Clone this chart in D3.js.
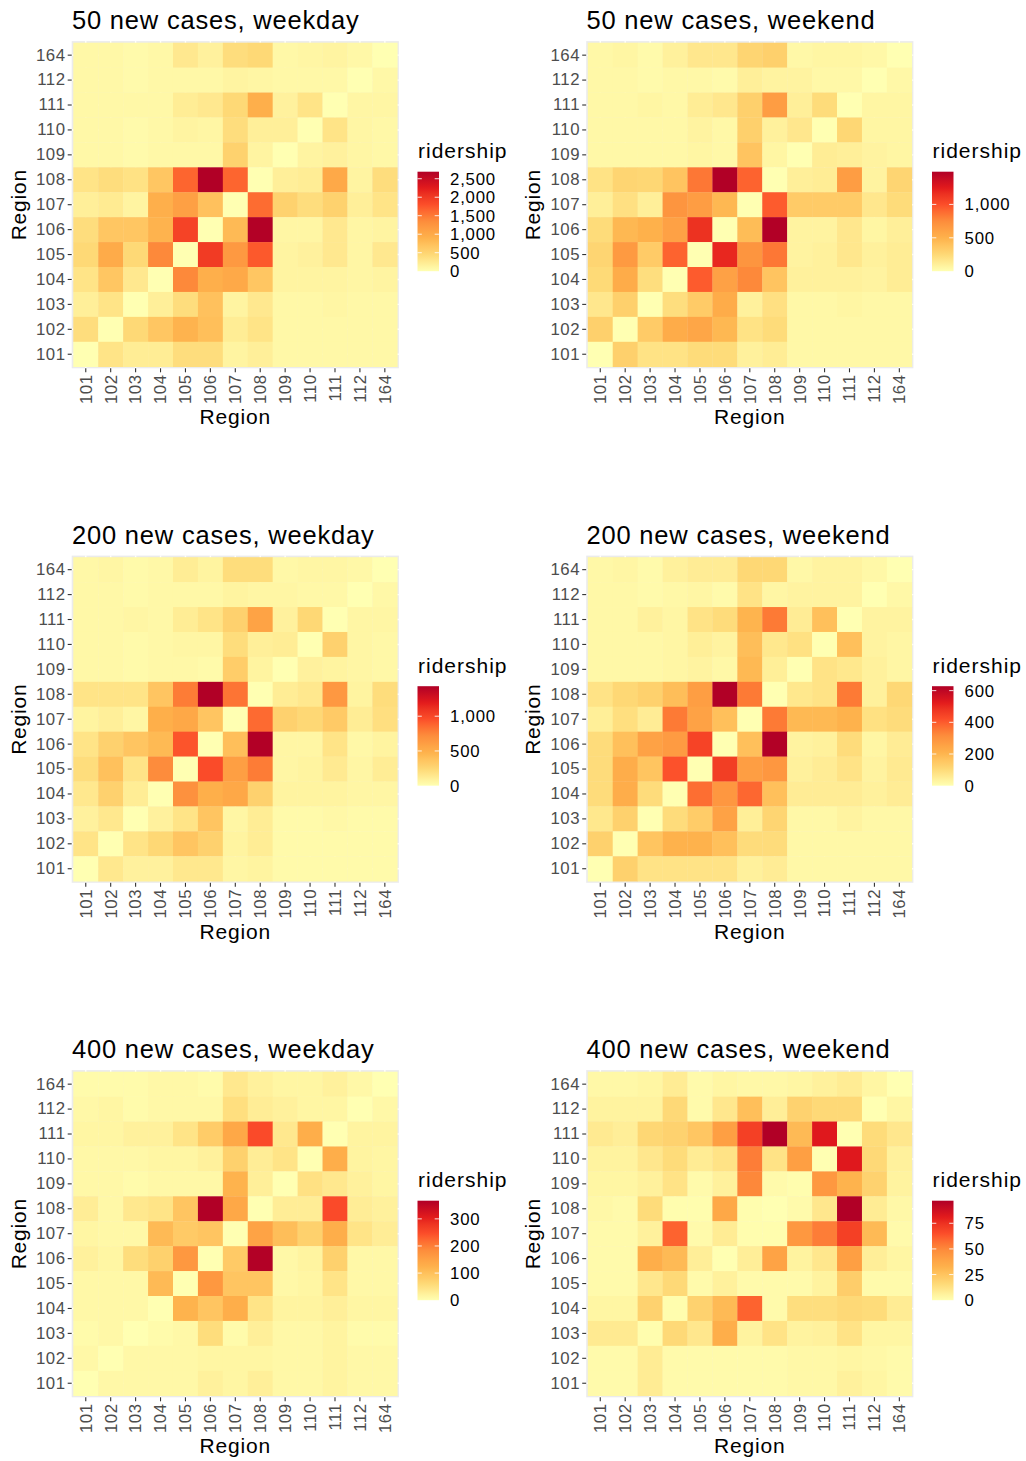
<!DOCTYPE html>
<html>
<head>
<meta charset="utf-8">
<script src="https://cdn.jsdelivr.net/npm/d3@7"></script>
<style>
  body { margin: 0; background: #ffffff; }
  svg text { font-family: "Liberation Sans", Arial, Helvetica, sans-serif; }
</style>
</head>
<body>
<svg id="chart" width="1026" height="1461"></svg>
<script>
// Origin / destination regions (x axis left to right)
const regions = ["101", "102", "103", "104", "105", "106", "107", "108", "109", "110", "111", "112", "164"];
// Matrix rows are listed top to bottom, i.e. 164 first, 101 last
const rowRegions = regions.slice().reverse();

const panelTitles = [
  "50 new cases, weekday", "50 new cases, weekend",
  "200 new cases, weekday", "200 new cases, weekend",
  "400 new cases, weekday", "400 new cases, weekend"
];

// Colour-bar break labels for each panel
const breaks50Weekday = [0, 500, 1000, 1500, 2000, 2500];
const breaks50Weekend = [0, 500, 1000];
const breaks200Weekday = [0, 500, 1000];
const breaks200Weekend = [0, 200, 400, 600];
const breaks400Weekday = [0, 100, 200, 300];
const breaks400Weekend = [0, 25, 50, 75];

// Ridership matrices: one row per y region (164 ... 101), one column per x region (101 ... 164)
const ridership50Weekday = [
  [80, 80, 55, 80, 265, 160, 400, 450, 80, 105, 130, 80, 0],
  [80, 80, 55, 80, 80, 80, 130, 105, 80, 80, 80, 0, 80],
  [80, 80, 80, 80, 215, 265, 450, 930, 160, 320, 0, 105, 105],
  [80, 80, 55, 80, 130, 105, 400, 185, 185, 0, 320, 105, 80],
  [80, 80, 55, 80, 80, 80, 530, 130, 0, 130, 160, 105, 80],
  [320, 400, 345, 665, 1650, 2690, 1650, 0, 185, 215, 1010, 130, 400],
  [185, 240, 130, 930, 1120, 720, 0, 1600, 530, 400, 530, 185, 320],
  [400, 665, 665, 880, 1915, 0, 800, 2670, 105, 105, 265, 105, 130],
  [450, 985, 450, 1380, 0, 1995, 1200, 1730, 130, 160, 265, 105, 265],
  [320, 665, 265, 0, 1380, 930, 1010, 665, 130, 130, 130, 105, 130],
  [185, 320, 0, 185, 400, 720, 130, 265, 80, 80, 105, 80, 80],
  [400, 0, 450, 665, 880, 745, 215, 320, 80, 80, 80, 80, 80],
  [0, 320, 215, 215, 400, 400, 130, 185, 80, 80, 80, 80, 80]
];

const ridership50Weekend = [
  [45, 60, 30, 90, 155, 155, 275, 305, 45, 60, 60, 45, 0],
  [45, 45, 30, 45, 45, 30, 105, 75, 75, 45, 45, 0, 45],
  [45, 45, 60, 45, 120, 155, 305, 640, 105, 230, 0, 60, 60],
  [45, 45, 45, 45, 75, 45, 305, 90, 155, 0, 260, 60, 60],
  [45, 45, 45, 45, 60, 45, 380, 60, 0, 120, 105, 75, 60],
  [185, 275, 260, 380, 840, 1490, 920, 0, 105, 120, 640, 75, 275],
  [105, 200, 105, 690, 640, 460, 0, 950, 335, 335, 335, 155, 230],
  [230, 460, 505, 610, 1150, 0, 430, 1485, 75, 75, 155, 60, 105],
  [275, 660, 335, 920, 0, 1195, 690, 840, 75, 90, 155, 90, 120],
  [245, 535, 215, 0, 950, 610, 765, 380, 90, 90, 90, 75, 120],
  [155, 305, 0, 215, 335, 535, 90, 200, 45, 45, 60, 45, 45],
  [305, 0, 335, 535, 580, 460, 185, 230, 45, 45, 45, 45, 45],
  [0, 305, 185, 185, 230, 230, 90, 120, 45, 45, 45, 45, 45]
];

const ridership200Weekday = [
  [45, 55, 30, 45, 115, 70, 215, 215, 45, 55, 55, 45, 0],
  [45, 45, 30, 45, 45, 45, 70, 55, 55, 45, 45, 0, 45],
  [45, 45, 55, 45, 115, 170, 285, 575, 85, 245, 0, 55, 55],
  [45, 45, 30, 45, 55, 55, 215, 100, 115, 0, 285, 55, 45],
  [45, 45, 30, 45, 45, 30, 315, 70, 0, 85, 70, 55, 45],
  [170, 170, 170, 360, 790, 1432, 820, 0, 115, 145, 645, 70, 215],
  [70, 100, 55, 500, 545, 360, 0, 860, 285, 245, 330, 115, 200],
  [170, 285, 360, 430, 935, 0, 400, 1428, 55, 55, 170, 45, 70],
  [215, 385, 170, 720, 0, 975, 605, 790, 55, 70, 130, 55, 115],
  [145, 285, 115, 0, 690, 500, 545, 285, 70, 70, 70, 55, 55],
  [85, 145, 0, 85, 170, 360, 55, 115, 30, 30, 45, 30, 30],
  [170, 0, 170, 245, 360, 285, 70, 115, 30, 30, 30, 30, 30],
  [0, 145, 85, 85, 145, 145, 55, 70, 30, 30, 30, 30, 30]
];

const ridership200Weekend = [
  [20, 25, 13, 38, 51, 51, 108, 108, 20, 32, 32, 20, 0],
  [20, 20, 13, 20, 25, 13, 76, 25, 32, 32, 32, 0, 20],
  [20, 20, 38, 25, 76, 96, 204, 350, 51, 172, 0, 32, 32],
  [20, 20, 20, 25, 45, 32, 178, 64, 83, 0, 172, 32, 25],
  [20, 20, 20, 25, 32, 20, 191, 45, 0, 76, 64, 38, 25],
  [76, 108, 127, 178, 268, 628, 350, 0, 64, 76, 350, 38, 108],
  [45, 89, 51, 350, 255, 172, 0, 350, 191, 191, 210, 83, 96],
  [96, 172, 255, 274, 446, 0, 172, 625, 32, 38, 96, 25, 51],
  [96, 223, 159, 414, 0, 459, 268, 287, 38, 51, 76, 32, 57],
  [96, 223, 96, 0, 370, 287, 382, 172, 51, 51, 51, 38, 51],
  [64, 127, 0, 96, 140, 255, 45, 115, 20, 20, 32, 20, 20],
  [127, 0, 159, 210, 210, 172, 96, 96, 20, 20, 20, 20, 20],
  [0, 127, 76, 76, 76, 76, 38, 51, 20, 20, 20, 20, 20]
];

const ridership400Weekday = [
  [7, 7, 7, 11, 11, 7, 37, 22, 15, 15, 22, 11, 0],
  [11, 15, 7, 11, 11, 11, 52, 29, 22, 15, 15, 0, 11],
  [15, 15, 22, 22, 44, 81, 140, 250, 37, 129, 0, 18, 18],
  [11, 11, 11, 15, 15, 22, 74, 29, 44, 0, 129, 18, 15],
  [11, 11, 7, 11, 11, 11, 121, 26, 0, 48, 37, 22, 15],
  [29, 11, 37, 44, 92, 367, 140, 0, 29, 29, 250, 29, 22],
  [15, 11, 11, 110, 85, 92, 0, 147, 103, 74, 129, 44, 29],
  [22, 15, 55, 74, 166, 0, 85, 365, 11, 18, 74, 11, 11],
  [11, 11, 11, 110, 0, 166, 92, 92, 11, 15, 44, 11, 11],
  [11, 11, 11, 0, 121, 92, 129, 44, 18, 18, 26, 15, 15],
  [7, 11, 0, 7, 11, 55, 7, 26, 11, 11, 18, 7, 7],
  [11, 0, 11, 11, 11, 15, 15, 15, 11, 11, 18, 11, 11],
  [0, 11, 11, 11, 11, 22, 15, 26, 11, 11, 18, 11, 11]
];

const ridership400Weekend = [
  [3, 3, 4, 8, 2, 4, 3, 3, 4, 6, 8, 4, 0],
  [5, 5, 5, 16, 2, 10, 27, 7, 19, 16, 16, 0, 4],
  [9, 7, 17, 19, 24, 41, 70, 97, 29, 82, 0, 15, 10],
  [5, 5, 10, 15, 8, 12, 53, 12, 41, 0, 82, 16, 6],
  [4, 4, 6, 12, 2, 6, 50, 2, 1, 44, 32, 19, 5],
  [3, 2, 15, 1, 1, 37, 1, 0, 2, 10, 97, 8, 3],
  [2, 2, 6, 60, 2, 8, 1, 1, 44, 53, 70, 29, 2],
  [2, 2, 34, 29, 7, 0, 7, 39, 5, 10, 41, 7, 4],
  [2, 2, 10, 16, 2, 6, 2, 2, 2, 5, 21, 2, 2],
  [4, 4, 19, 1, 19, 29, 60, 2, 14, 14, 16, 15, 8],
  [9, 9, 1, 16, 10, 34, 5, 12, 5, 6, 12, 4, 4],
  [2, 2, 8, 2, 2, 2, 2, 2, 3, 3, 4, 3, 2],
  [2, 2, 8, 2, 2, 2, 2, 2, 3, 3, 6, 4, 2]
];

// YlOrRd (7 classes) used as a continuous ramp
const palette = ["#FFFFB2", "#FED976", "#FEB24C", "#FD8D3C", "#FC4E2A", "#E31A1C", "#B10026"];

const panels = [
  { title: panelTitles[0], matrix: ridership50Weekday, breaks: breaks50Weekday },
  { title: panelTitles[1], matrix: ridership50Weekend, breaks: breaks50Weekend },
  { title: panelTitles[2], matrix: ridership200Weekday, breaks: breaks200Weekday },
  { title: panelTitles[3], matrix: ridership200Weekend, breaks: breaks200Weekend },
  { title: panelTitles[4], matrix: ridership400Weekday, breaks: breaks400Weekday },
  { title: panelTitles[5], matrix: ridership400Weekend, breaks: breaks400Weekend }
];

// Layout
const colOffsets = [0, 514.5];
const rowOffsets = [0, 514.5, 1029];
const tileLeft = 73.3, tileTop = 42.7, tileSize = 324, expand = 1.6;
const barX = 417.5, barTop = 171.7, barW = 21.5, barH = 99.5;
const tickLS = 0.6;   // letter spacing of tick / legend labels

const svg = d3.select("#chart");
const fmt = d3.format(",");

panels.forEach((p, i) => {
  const ox = colOffsets[i % 2];
  const oy = rowOffsets[Math.floor(i / 2)];
  const g = svg.append("g").attr("transform", `translate(${ox},${oy})`);

  const x = d3.scaleBand().domain(regions).range([tileLeft, tileLeft + tileSize]).padding(0);
  const y = d3.scaleBand().domain(rowRegions).range([tileTop, tileTop + tileSize]).padding(0);

  const cells = [];
  p.matrix.forEach((row, ri) => row.forEach((v, ci) => {
    cells.push({ from: regions[ci], to: rowRegions[ri], value: v });
  }));
  const vmin = d3.min(cells, d => d.value);
  const vmax = d3.max(cells, d => d.value);
  const color = d3.scaleLinear()
    .domain(palette.map((_, k) => vmin + k * (vmax - vmin) / (palette.length - 1)))
    .range(palette)
    .interpolate(d3.interpolateLab);

  // Panel background and grid
  const px0 = tileLeft - expand, py0 = tileTop - expand, pSize = tileSize + 2 * expand;
  g.append("rect").attr("x", px0).attr("y", py0).attr("width", pSize).attr("height", pSize)
    .attr("fill", "#EBEBEB");
  g.append("g").selectAll("line.vx").data(regions).join("line")
    .attr("x1", d => x(d) + x.bandwidth() / 2).attr("x2", d => x(d) + x.bandwidth() / 2)
    .attr("y1", py0).attr("y2", py0 + pSize).attr("stroke", "#fff").attr("stroke-width", 1.4);
  g.append("g").selectAll("line.hy").data(rowRegions).join("line")
    .attr("y1", d => y(d) + y.bandwidth() / 2).attr("y2", d => y(d) + y.bandwidth() / 2)
    .attr("x1", px0).attr("x2", px0 + pSize).attr("stroke", "#fff").attr("stroke-width", 1.4);

  // Tiles
  g.append("g").selectAll("rect").data(cells).join("rect")
    .attr("x", d => x(d.from)).attr("y", d => y(d.to))
    .attr("width", x.bandwidth() + 0.3).attr("height", y.bandwidth() + 0.3)
    .attr("fill", d => color(d.value));

  // Axes
  const yAxis = g.append("g").attr("transform", `translate(${px0},0)`)
    .call(d3.axisLeft(y).tickSize(4).tickPadding(2.6));
  const xAxis = g.append("g").attr("transform", `translate(0,${py0 + pSize})`)
    .call(d3.axisBottom(x).tickSize(4).tickPadding(2.6));
  [yAxis, xAxis].forEach(a => {
    a.select(".domain").remove();
    a.selectAll(".tick line").attr("stroke", "#333333").attr("stroke-width", 1.1);
    a.selectAll(".tick text").attr("fill", "#4D4D4D")
      .style("font-size", "16.8px").style("letter-spacing", tickLS + "px");
  });
  yAxis.selectAll(".tick text").attr("dx", tickLS);
  xAxis.selectAll(".tick text")
    .attr("x", 0).attr("y", 0).attr("dy", "0.35em").attr("dx", tickLS)
    .attr("transform", "translate(0,6.6) rotate(-90)")
    .attr("text-anchor", "end");

  // Titles
  g.append("text").attr("x", 72).attr("y", 29.3).style("font-size", "25.5px")
    .style("letter-spacing", "0.8px").attr("fill", "#000")
    .text(p.title);
  g.append("text").attr("x", tileLeft + tileSize / 2).attr("y", 424).attr("text-anchor", "middle")
    .style("font-size", "21px").style("letter-spacing", "0.8px").attr("fill", "#000").text("Region");
  g.append("text").attr("transform", `translate(25.5,${tileTop + tileSize / 2}) rotate(-90)`)
    .attr("text-anchor", "middle").style("font-size", "21px").style("letter-spacing", "0.8px")
    .attr("fill", "#000").text("Region");

  // Colour bar legend
  const gradId = "grad" + i;
  const grad = svg.append("defs").append("linearGradient").attr("id", gradId)
    .attr("x1", 0).attr("y1", 1).attr("x2", 0).attr("y2", 0);
  d3.range(41).forEach(k => {
    const t = k / 40;
    grad.append("stop").attr("offset", t).attr("stop-color", color(vmin + t * (vmax - vmin)));
  });
  const ly = d3.scaleLinear().domain([vmin, vmax]).range([barTop + barH, barTop]);
  g.append("text").attr("x", barX + 0.5).attr("y", 158.3).style("font-size", "21px")
    .style("letter-spacing", "1px").attr("fill", "#000")
    .text("ridership");
  g.append("rect").attr("x", barX).attr("y", barTop).attr("width", barW).attr("height", barH)
    .attr("fill", `url(#${gradId})`);
  const tickW = barW / 5;
  p.breaks.filter(b => b > vmin && b <= vmax).forEach(b => {
    [barX, barX + barW - tickW].forEach(tx => {
      g.append("line").attr("x1", tx).attr("x2", tx + tickW).attr("y1", ly(b)).attr("y2", ly(b))
        .attr("stroke", "#fff").attr("stroke-opacity", 0.85).attr("stroke-width", 1);
    });
  });
  g.append("g").selectAll("text").data(p.breaks).join("text")
    .attr("x", barX + barW + 11).attr("y", d => ly(d)).attr("dy", "0.36em")
    .style("font-size", "16.8px").style("letter-spacing", "0.8px").attr("fill", "#000")
    .text(d => fmt(d));
});
</script>
</body>
</html>
